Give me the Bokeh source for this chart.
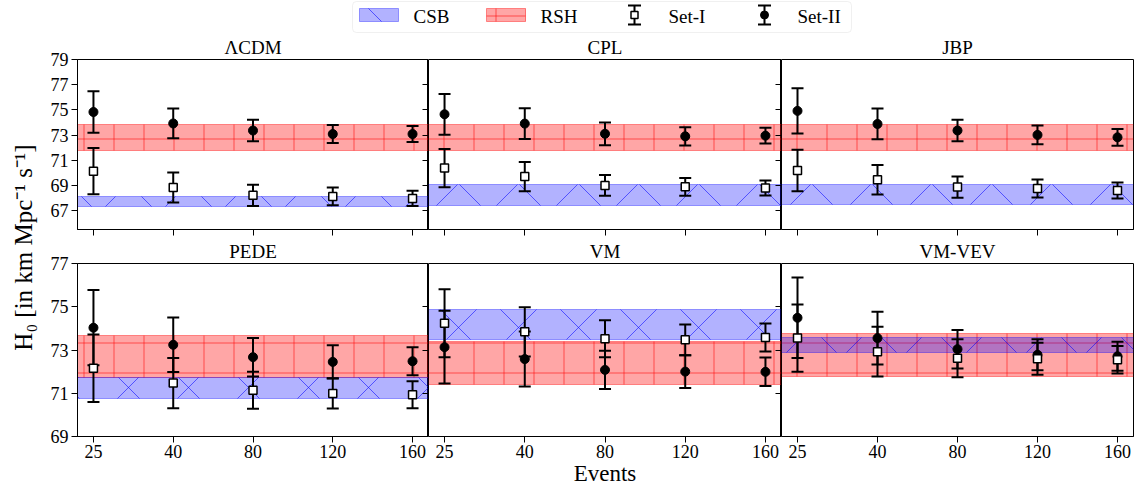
import numpy as np
from bokeh.plotting import figure
from bokeh.models import Range1d, FixedTicker, LinearAxis, BoxAnnotation, ColumnDataSource, Title
from bokeh.layouts import row, column
from bokeh.embed import file_html
from bokeh.resources import INLINE
from bokeh.core.properties import value

# ---------------- data ----------------
models = ["ΛCDM", "CPL", "JBP", "PEDE", "VM", "VM-VEV"]
events = ["25", "40", "80", "120", "160"]

set1_h0 = [
    [70.13, 68.84, 68.21, 68.13, 67.97],
    [70.38, 69.70, 69.00, 68.89, 68.80],
    [70.18, 69.45, 68.87, 68.76, 68.60],
    [72.16, 71.47, 71.14, 70.99, 70.93],
    [74.24, 73.84, 73.52, 73.47, 73.58],
    [73.55, 72.92, 72.62, 72.59, 72.55],
]
set1_err = [
    [1.84, 1.19, 0.85, 0.71, 0.61],
    [1.52, 1.17, 0.82, 0.70, 0.60],
    [1.65, 1.18, 0.84, 0.71, 0.63],
    [1.56, 1.16, 0.86, 0.70, 0.62],
    [1.57, 1.14, 0.85, 0.71, 0.65],
    [1.55, 1.15, 0.88, 0.74, 0.64],
]
set2_h0 = [
    [74.83, 73.92, 73.36, 73.08, 73.08],
    [74.65, 73.91, 73.10, 72.90, 72.95],
    [74.92, 73.88, 73.36, 73.01, 72.82],
    [74.03, 73.24, 72.67, 72.45, 72.48],
    [73.13, 72.58, 72.08, 72.00, 71.99],
    [74.49, 73.55, 73.04, 72.78, 72.71],
]
set2_err = [
    [1.65, 1.18, 0.86, 0.71, 0.63],
    [1.62, 1.22, 0.90, 0.72, 0.63],
    [1.79, 1.22, 0.86, 0.75, 0.66],
    [1.74, 1.26, 0.89, 0.77, 0.65],
    [1.68, 1.27, 0.88, 0.76, 0.66],
    [1.86, 1.22, 0.89, 0.72, 0.67],
]
csb_lo = [67.34, 67.42, 67.45, 70.76, 73.50, 72.88]
csb_hi = [68.13, 69.10, 69.10, 71.72, 74.87, 73.56]
rsh_lo = [71.79, 71.79, 71.80, 71.72, 71.42, 71.79]
rsh_hi = [73.81, 73.81, 73.84, 73.69, 73.41, 73.76]

top_ticks = [67, 69, 71, 73, 75, 77, 79]
bottom_ticks = [69, 71, 73, 75, 77]
top_range = (65.5, 79.0)
bottom_range = (69.0, 77.0)

legend_labels = ["CSB", "RSH", "Set-I", "Set-II"]
ylabel_text = "H₀ [in km Mpc⁻¹ s⁻¹]"
xlabel_text = "Events"

# ---------------- style ----------------
FONT = "Liberation Serif"
CSB_STYLE = dict(fill_color="blue", fill_alpha=0.3, line_color="blue", line_alpha=0.35,
                 hatch_pattern="diagonal_cross", hatch_color="blue", hatch_alpha=0.55,
                 hatch_scale=60, hatch_weight=1)
RSH_STYLE = dict(fill_color="red", fill_alpha=0.35, line_color="red", line_alpha=0.4,
                 hatch_pattern="cross", hatch_color="red", hatch_alpha=0.55,
                 hatch_scale=30, hatch_weight=1)

xs = np.arange(len(events))
W = [390, 353, 361]
LB = [39, 0, 0]
RB = [0, 0, 9]


def hide_labels(ax):
    ax.major_label_overrides = {t: "" for t in (ax.ticker.ticks)}
    ax.major_label_text_font_size = "0px"
    ax.major_label_standoff = 0


def make_panel(k):
    r, c = divmod(k, 3)
    top = r == 0
    yr = top_range if top else bottom_range
    yt = top_ticks if top else bottom_ticks
    p = figure(width=W[c], height=204 if top else 254,
               x_range=Range1d(-0.2, 4.2), y_range=Range1d(*yr),
               output_backend="svg", toolbar_location=None,
               min_border_left=LB[c], min_border_right=RB[c],
               min_border_top=25 if top else 26, min_border_bottom=8 if top else 55,
               y_axis_location="left" if c == 0 else None)
    p.title = Title(text=models[k], align="center", text_font=FONT, text_font_size="19px",
                    text_font_style="normal", text_color="black", standoff=3)
    for g in p.grid:
        g.visible = False
    p.outline_line_color = "black"
    p.outline_line_alpha = 1.0
    p.outline_line_width = 1
    p.background_fill_color = "white"
    p.border_fill_color = "white"

    xa = p.xaxis[0]
    xa.ticker = FixedTicker(ticks=list(xs))
    xa.major_tick_out = 6
    xa.major_tick_in = 0
    xa.minor_tick_line_color = None
    xa.axis_line_color = "black"
    xa.major_tick_line_color = "black"
    xa.major_label_text_font = FONT
    xa.major_label_text_color = "black"
    if top:
        hide_labels(xa)
    else:
        xa.major_label_overrides = {int(i): lab for i, lab in zip(xs, events)}
        xa.major_label_text_font_size = "18px"
        xa.major_label_standoff = 2
        if c == 1:
            xa.axis_label = xlabel_text
            xa.axis_label_text_font = FONT
            xa.axis_label_text_font_size = "23px"
            xa.axis_label_text_font_style = "normal"
            xa.axis_label_text_color = "black"
            xa.axis_label_standoff = 0

    if c == 0:
        ya = p.yaxis[0]
        ya.ticker = FixedTicker(ticks=yt)
        ya.major_tick_out = 6
        ya.major_tick_in = 0
        ya.minor_tick_line_color = None
        ya.axis_line_color = "black"
        ya.major_label_text_font = FONT
        ya.major_label_text_font_size = "18px"
        ya.major_label_text_color = "black"
        ya.major_label_standoff = 3
    if c < 2:
        # ticks of the neighbouring panel's left axis, which point into this panel
        ra = LinearAxis(ticker=FixedTicker(ticks=yt), major_tick_in=6, major_tick_out=0,
                        minor_tick_line_color=None, axis_line_color="black")
        hide_labels(ra)
        p.add_layout(ra, "right")

    # bands
    p.hstrip(y0=[rsh_lo[k]], y1=[rsh_hi[k]], **RSH_STYLE)
    p.hstrip(y0=[csb_lo[k]], y1=[csb_hi[k]], **CSB_STYLE)

    # Set-II then Set-I
    for h0, err, marker, size in ((set2_h0[k], set2_err[k], "circle", 9),
                                  (set1_h0[k], set1_err[k], "square", 8)):
        h = np.array(h0)
        e = np.array(err)
        src = ColumnDataSource(dict(x=xs, y=h, lo=h - e, hi=h + e))
        p.segment(x0="x", y0="lo", x1="x", y1="hi", line_color="black", line_width=2, source=src)
        p.scatter(x="x", y="lo", marker="dash", size=12, line_color="black", line_width=2, source=src)
        p.scatter(x="x", y="hi", marker="dash", size=12, line_color="black", line_width=2, source=src)
        if marker == "circle":
            p.scatter(x="x", y="y", marker="circle", size=size, fill_color="black",
                      line_color="black", source=src)
        else:
            p.scatter(x="x", y="y", marker="square", size=size, fill_color="white",
                      line_color="black", line_width=1.5, source=src)
    return p


panels = [make_panel(k) for k in range(6)]

# ---------------- legend strip ----------------
leg = figure(width=1142, height=33, x_range=Range1d(0, 1142), y_range=Range1d(33, 0),
             output_backend="svg", toolbar_location=None,
             x_axis_location=None, y_axis_location=None,
             min_border_left=0, min_border_right=0, min_border_top=0, min_border_bottom=0)
leg.outline_line_color = None
for g in leg.grid:
    g.visible = False
leg.add_layout(BoxAnnotation(left=352, right=851, top=1, bottom=32, fill_color="white",
                             fill_alpha=1.0, line_color="#cccccc", line_width=1,
                             border_radius=4, level="underlay"))
leg.quad(left=[359], right=[398], top=[8], bottom=[21], **CSB_STYLE)
leg.quad(left=[486], right=[525], top=[8], bottom=[21], **RSH_STYLE)
for xm, marker in ((634, "square"), (764, "circle")):
    leg.segment(x0=[xm], y0=[5], x1=[xm], y1=[24], line_color="black", line_width=2)
    leg.scatter(x=[xm, xm], y=[5, 24], marker="dash", size=13, line_color="black", line_width=2)
    if marker == "square":
        leg.scatter(x=[xm], y=[14.5], marker="square", size=7, fill_color="white",
                    line_color="black", line_width=1.5)
    else:
        leg.scatter(x=[xm], y=[14.5], marker="circle", size=8, fill_color="black",
                    line_color="black")
leg.text(x=[413, 540, 668, 797], y=[15.5] * 4, text=legend_labels,
         text_font=value(FONT), text_font_size=value("19px"), text_color="black",
         text_baseline="middle", text_align="left")

# ---------------- y label strip ----------------
ylab = figure(width=38, height=458, x_range=Range1d(0, 38), y_range=Range1d(0, 458),
              output_backend="svg", toolbar_location=None,
              x_axis_location=None, y_axis_location=None,
              min_border_left=0, min_border_right=0, min_border_top=0, min_border_bottom=0)
ylab.outline_line_color = None
for g in ylab.grid:
    g.visible = False
ylab.text(x=[23], y=[244], text=[ylabel_text], angle=np.pi / 2,
          text_font=value(FONT), text_font_size=value("25px"), text_color="black",
          text_baseline="middle", text_align="center")

grid = column(row(panels[0], panels[1], panels[2]), row(panels[3], panels[4], panels[5]))
layout = column(leg, row(ylab, grid))

open("out.html", "w").write(file_html(layout, INLINE))
